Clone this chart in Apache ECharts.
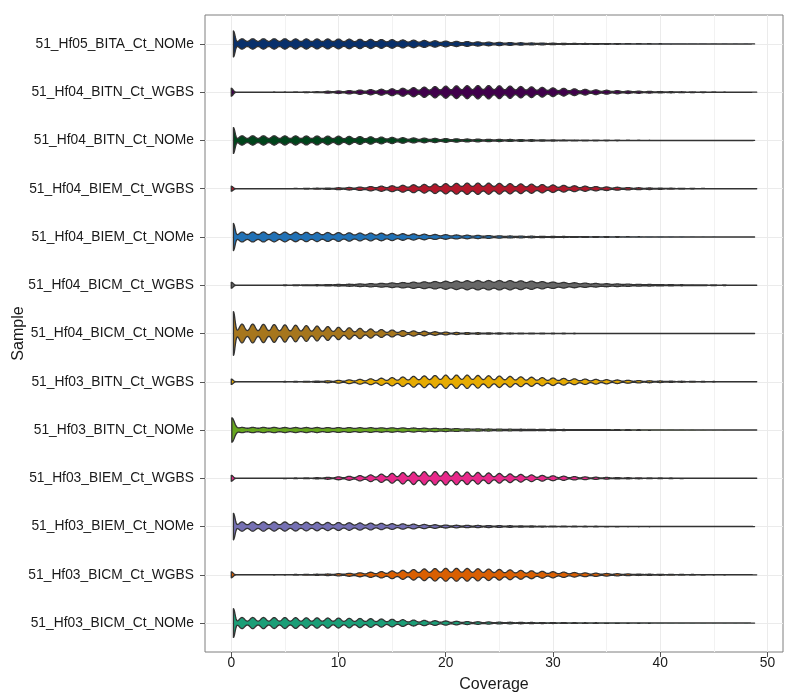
<!DOCTYPE html>
<html>
<head>
<meta charset="utf-8">
<script src="https://cdn.jsdelivr.net/npm/echarts@6/dist/echarts.min.js"></script>
<style>html,body{margin:0;padding:0;background:#fff}#c{width:800px;height:700px}</style>
</head>
<body>
<div id="c"></div>
<script>
// Samples, bottom to top
const samples = [
  '51_Hf03_BICM_Ct_NOMe', '51_Hf03_BICM_Ct_WGBS', '51_Hf03_BIEM_Ct_NOMe', '51_Hf03_BIEM_Ct_WGBS',
  '51_Hf03_BITN_Ct_NOMe', '51_Hf03_BITN_Ct_WGBS', '51_Hf04_BICM_Ct_NOMe', '51_Hf04_BICM_Ct_WGBS',
  '51_Hf04_BIEM_Ct_NOMe', '51_Hf04_BIEM_Ct_WGBS', '51_Hf04_BITN_Ct_NOMe', '51_Hf04_BITN_Ct_WGBS',
  '51_Hf05_BITA_Ct_NOMe'
];
const colors = ['#1B9E77', '#D95F02', '#7570B3', '#E7298A', '#66A61E', '#E6AB02', '#A6761D', '#666666',
  '#2171B5', '#B2182B', '#00441B', '#40004B', '#08306B'];

const xTicks = [0, 10, 20, 30, 40, 50];
const xMinorTicks = [5, 15, 25, 35, 45];

// Coverage range of each sample
const xMin = [0.2, 0, 0.2, 0, 0.05, 0, 0.2, 0, 0.2, 0, 0.2, 0, 0.2];
const xMax = [48.8, 49, 48.8, 49, 49, 49, 48.8, 49, 48.8, 49, 48.8, 49, 48.8];

// Relative density: index 0 = value at the lower end, then coverage 1..48
const d_Hf03_BICM_NOMe = [14.5, 5.6,5.6,5.6,5.5,5.5,5.4,5.3,5.2,5.1,5.0, 4.8,4.6,4.4,4.1,3.8,3.4,3.0,2.7,2.4,2.1,
  1.8,1.5,1.3,1.1,0.9,0.8,0.7,0.6,0.5,0.45, 0.4,0.35,0.3,0.3,0.25,0.25,0.2,0.2,0.2,0.15, 0.15,0.15,0.12,0.12,0.1,0.1,0.1,0.1];
const d_Hf03_BICM_WGBS = [3, 0.15,0.15,0.15,0.2,0.2,0.3,0.4,0.55, 0.8,1.1,1.5,2,2.6,3.2,3.9,4.6,5.3,5.9,6.3,6.5,6.5,6.4,6.1,5.8,
  5.4,5,4.5,4,3.5,3.1,2.7,2.3,1.9,1.6,1.3,1.1,0.9,0.7,0.6,0.5,0.4,0.35,0.3,0.25,0.2,0.2,0.15,0.15];
const d_Hf03_BIEM_NOMe = [13.3, 4.7,4.7,4.7,4.6,4.6,4.5,4.4,4.3,4.1,4.0, 3.8,3.6,3.4,3.2,2.9,2.7,2.4,2.1,1.8,1.5,
  1.3,1.2,1.1,1.0,0.9,0.8,0.7,0.6,0.5,0.45, 0.4,0.35,0.3,0.3,0.25,0.25,0.2,0.2,0.2,0.15, 0.15,0.15,0.12,0.12,0.1,0.1,0.1,0.1];
const d_Hf03_BIEM_WGBS = [3, 0.15,0.15,0.15,0.2,0.25,0.3,0.4, 0.6,1,1.5,2,2.7,3.4,4.2,5,5.8,6.3,6.7,6.8,6.8,6.6,6.3,5.9,5.4,
  4.9,4.4,3.9,3.4,2.9,2.5,2.1,1.7,1.4,1.1,0.9,0.7,0.6,0.5,0.4,0.35,0.3,0.25,0.2,0.2,0.15,0.15,0.12,0.1];
const d_Hf03_BITN_NOMe = [12.3, 2.6,2.6,2.6,2.6,2.5,2.5,2.5,2.5,2.4,2.4,2.4,2.3,2.3,2.2,2.2, 2.1,2.0,1.8,1.7,1.5,
  1.4,1.2,1.1,1.0,0.9,0.8,0.75,0.7,0.65,0.6, 0.5,0.45,0.4,0.38,0.35,0.3,0.28,0.25,0.22,0.2, 0.18,0.16,0.15,0.14,0.12,0.12,0.1,0.1];
const d_Hf03_BITN_WGBS = [2.7, 0.15,0.15,0.15,0.2,0.25,0.3,0.45,0.7, 1,1.4,1.9,2.4,3,3.6,4.2,4.8,5.4,5.9,6.3,6.7,6.8,6.7,6.4,6.1,
  5.8,5.4,5,4.6,4.2,3.8,3.4,3,2.7,2.4,2.1,1.8,1.5,1.2,1,0.8,0.6,0.5,0.4,0.3,0.25,0.2,0.15,0.12];
const d_Hf04_BICM_NOMe = [22, 9.5,9.5,9.3,9,8.7,8.4,8,7.5,7,6.3, 5.8,5.2,4.6,4,3.5,3,2.6,2.3,1.8,1.4,
  1.1,0.9,0.8,0.7,0.6,0.5,0.45,0.4,0.35,0.3, 0.28,0.25,0.22,0.2,0.2,0.18,0.16,0.15, 0.14,0.13,0.12,0.12,0.11,0.1,0.1,0.1,0.1,0.1];
const d_Hf04_BICM_WGBS = [3, 0.15,0.15,0.2,0.2,0.25,0.3,0.4,0.5, 0.65,0.8,1.0,1.3,1.6,1.9,2.3,2.7,3.1,3.4,3.7,4,4.3,4.5,4.7,4.7,
  4.7,4.6,4.4,4.1,3.6,3.2,2.8,2.5,2.1,1.8,1.5,1.3,1.1,0.9,0.8,0.7,0.6,0.5,0.4,0.35,0.3,0.25,0.2,0.15];
const d_Hf04_BIEM_NOMe = [13.5, 5,5,5,4.9,4.9,4.8,4.7,4.6,4.5,4.4, 4.2,4.0,3.9,3.8,3.6,3.3,3.1,2.8,2.5,2.3,
  2.0,1.8,1.6,1.4,1.2,1.0,0.9,0.8,0.7,0.6, 0.5,0.45,0.4,0.35,0.3,0.27,0.24,0.22,0.2,0.18, 0.16,0.15,0.14,0.12,0.12,0.1,0.1,0.1];
const d_Hf04_BIEM_WGBS = [2.5, 0.15,0.15,0.15,0.2,0.2,0.25,0.35,0.5,0.7, 1,1.3,1.7,2.2,2.6,3,3.5,4,4.4,4.8,5.2,5.5,5.7,5.7,5.6,
  5.5,5.2,4.9,4.6,4.2,3.8,3.4,3,2.6,2.2,1.8,1.5,1.2,1,0.8,0.6,0.5,0.4,0.3,0.25,0.2,0.15,0.12,0.1];
const d_Hf04_BITN_NOMe = [13, 4.7,4.7,4.7,4.7,4.6,4.6,4.5,4.5,4.4,4.3, 4.1,3.9,3.7,3.4,3.1,2.8,2.5,2.3,2.1,1.9,
  1.7,1.5,1.4,1.2,1.1,1.0,0.9,0.8,0.7,0.6, 0.5,0.45,0.4,0.35,0.3,0.27,0.24,0.22,0.2,0.18, 0.16,0.15,0.14,0.12,0.12,0.1,0.1,0.1];
const d_Hf04_BITN_WGBS = [4, 0.15,0.15,0.15,0.2,0.2,0.25,0.35,0.5, 1,1.3,1.7,2.2,2.6,3.0,3.5,4,4.6,5.2,5.7,6.1,6.4,6.6,6.7,6.7,
  6.5,6.2,5.8,5.4,4.9,4.4,3.9,3.4,2.9,2.4,2,1.6,1.3,1.1,0.9,0.7,0.55,0.45,0.35,0.3,0.25,0.2,0.15,0.12];
const d_Hf05_BITA_NOMe = [13, 5.2,5.2,5.2,5.2,5.2,5.1,5.1,5.0,5.0,4.9,4.8,4.7, 4.6,4.4,4.3,4.0,3.8,3.5,3.2,2.9,
  2.6,2.4,2.1,1.8,1.6,1.4,1.2,1.0,0.9,0.75, 0.6,0.5,0.45,0.4,0.35,0.3,0.27,0.24,0.22,0.2, 0.18,0.16,0.15,0.14,0.12,0.11,0.1,0.1];

const densities = [d_Hf03_BICM_NOMe, d_Hf03_BICM_WGBS, d_Hf03_BIEM_NOMe, d_Hf03_BIEM_WGBS, d_Hf03_BITN_NOMe,
  d_Hf03_BITN_WGBS, d_Hf04_BICM_NOMe, d_Hf04_BICM_WGBS, d_Hf04_BIEM_NOMe, d_Hf04_BIEM_WGBS, d_Hf04_BITN_NOMe,
  d_Hf04_BITN_WGBS, d_Hf05_BITA_NOMe];

// Kernel bandwidths (coverage units) per sample
const bandwidths = [0.27, 0.28, 0.28, 0.26, 0.34, 0.27, 0.26, 0.33, 0.3, 0.28, 0.29, 0.28, 0.3];
const edgeBandwidths = [0.15, 0.17, 0.15, 0.17, 0.25, 0.17, 0.15, 0.17, 0.15, 0.17, 0.15, 0.17, 0.15];

const maxDensity = 22;
const HALF_WIDTH = 0.45; // violin max half-width in category units

function renderItem(params, api) {
  const i = api.value(1);
  const d = densities[i], bw = bandwidths[i], sb = edgeBandwidths[i];
  const x0 = xMin[i], x1 = xMax[i];
  const n = Math.round((x1 - x0) / 0.04);
  const top = [], bot = [];
  for (let j = 0; j <= n; j++) {
    const x = x0 + (x1 - x0) * j / n;
    let h = d[0] * Math.exp(-(x - x0) * (x - x0) / (2 * sb * sb));
    const kLo = Math.max(1, Math.floor(x - 2)), kHi = Math.min(d.length - 1, Math.ceil(x + 2));
    for (let k = kLo; k <= kHi; k++) h += d[k] * Math.exp(-(x - k) * (x - k) / (2 * bw * bw));
    const hw = h / maxDensity * HALF_WIDTH;
    top.push(api.coord([x, i + hw]));
    bot.push(api.coord([x, i - hw]));
  }
  return {
    type: 'polygon',
    shape: { points: top.concat(bot.reverse()) },
    style: { fill: colors[i], stroke: '#333333', lineWidth: 1.3, lineJoin: 'round' }
  };
}

const chart = echarts.init(document.getElementById('c'), null, { renderer: 'canvas' });
const textColor = '#1a1a1a';
chart.setOption({
  animation: false,
  backgroundColor: '#ffffff',
  grid: { left: 205, right: 17, top: 15, bottom: 48, outerBoundsMode: 'none', containLabel: false,
    show: true, borderColor: '#7f7f7f', borderWidth: 1, backgroundColor: 'transparent' },
  xAxis: [{
    type: 'value', min: -2.45, max: 51.45,
    name: 'Coverage', nameLocation: 'middle', nameGap: 25,
    nameTextStyle: { fontFamily: 'Liberation Sans', fontSize: 16, color: textColor },
    axisLine: { show: false, onZero: false },
    axisTick: { show: true, length: 5, inside: false, customValues: xTicks, lineStyle: { color: '#555' } },
    axisLabel: { customValues: xTicks, fontFamily: 'Liberation Sans', fontSize: 13.8, color: textColor, margin: 4 },
    splitLine: { show: true, lineStyle: { color: '#ebebeb', width: 1 } }
  }, {
    type: 'value', min: -2.45, max: 51.45, position: 'bottom',
    axisLine: { show: false, onZero: false },
    axisTick: { show: false, customValues: xMinorTicks },
    axisLabel: { show: false, customValues: xMinorTicks },
    splitLine: { show: true, lineStyle: { color: '#f2f2f2', width: 1 } }
  }],
  yAxis: {
    type: 'value', min: -0.6, max: 12.6,
    name: 'Sample', nameLocation: 'middle', nameGap: 178, nameRotate: 90, nameMoveOverlap: false,
    nameTextStyle: { fontFamily: 'Liberation Sans', fontSize: 16, color: textColor },
    axisLine: { show: false, onZero: false },
    axisTick: { show: true, length: 5, customValues: samples.map((s, i) => i), lineStyle: { color: '#555' } },
    axisLabel: { customValues: samples.map((s, i) => i), formatter: v => samples[v] || '', fontFamily: 'Liberation Sans', fontSize: 13.8, color: textColor, margin: 11 },
    splitLine: { show: true, lineStyle: { color: '#ebebeb', width: 1 } }
  },
  series: [{
    type: 'custom',
    renderItem: renderItem,
    encode: { x: [0, 2], y: 1 },
    data: samples.map((s, i) => [xMin[i], i, xMax[i]]),
    z: 5
  }]
});
</script>
</body>
</html>
